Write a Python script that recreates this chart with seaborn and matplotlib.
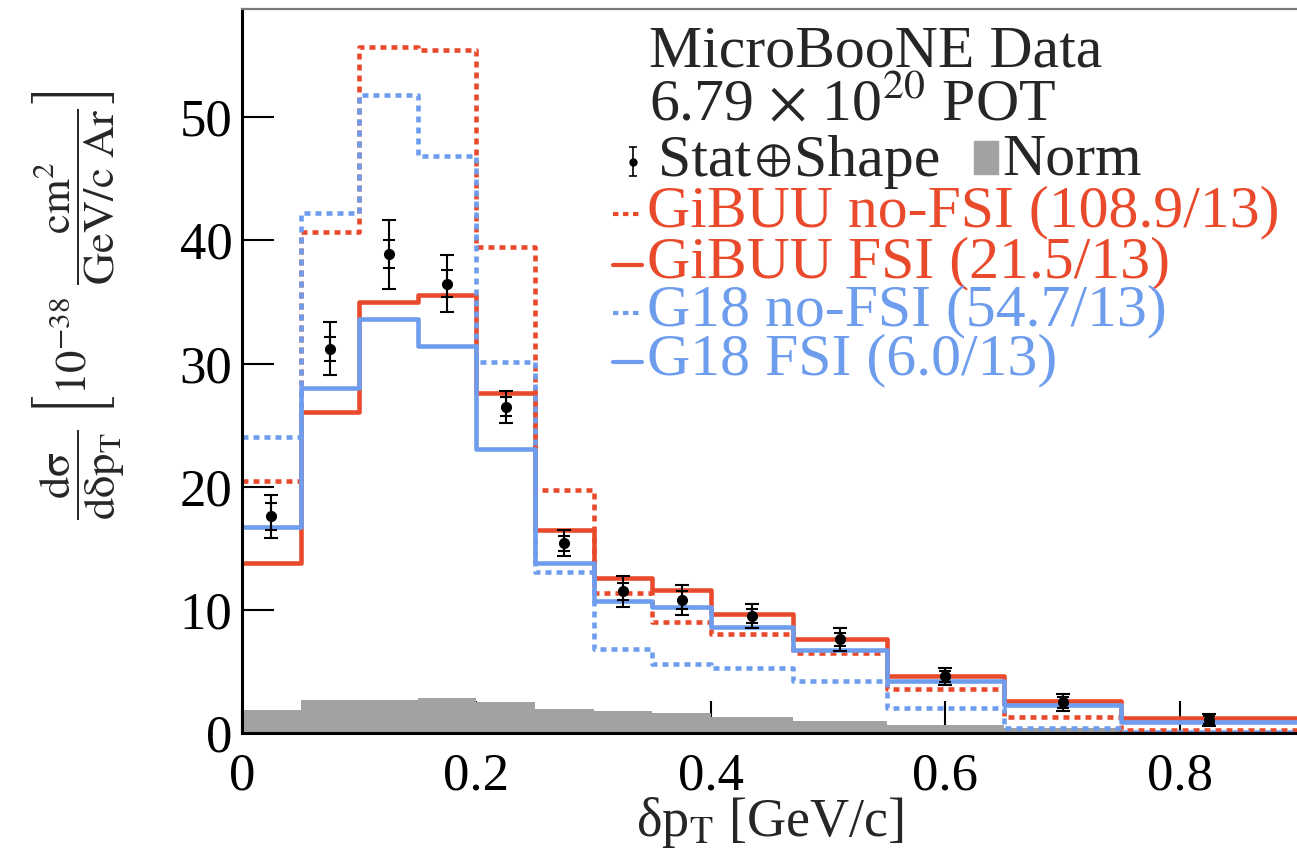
import numpy as np
import pandas as pd
import matplotlib
matplotlib.use("Agg")
import matplotlib.pyplot as plt
from matplotlib.patches import Rectangle
from matplotlib.offsetbox import TextArea, HPacker, AnchoredOffsetbox
import seaborn as sns

# Bin edges in delta pT [GeV/c]
edges = [0.0, 0.05, 0.10, 0.15, 0.20, 0.25, 0.30, 0.35, 0.40, 0.47, 0.55, 0.65, 0.75, 0.90]

# MicroBooNE data (10^-38 cm^2 / (GeV/c Ar))
data_xsec = [17.6, 31.2, 38.9, 36.5, 26.5, 15.4, 11.5, 10.8, 9.5, 7.6, 4.6, 2.5, 1.05]
err_total = [1.75, 2.15, 2.8, 2.3, 1.3, 1.05, 1.25, 1.2, 0.95, 0.9, 0.7, 0.7, 0.5]
err_stat = [1.1, 1.0, 1.1, 1.1, 0.75, 0.6, 0.7, 0.7, 0.6, 0.55, 0.45, 0.45, 0.35]

# Normalisation uncertainty band
norm_unc = [1.9, 2.7, 2.7, 2.85, 2.5, 1.95, 1.75, 1.6, 1.3, 0.97, 0.63, 0.4, 0.2]

# Generator predictions
gibuu_nofsi = [20.5, 40.7, 55.7, 55.5, 39.5, 19.7, 11.4, 9.0, 8.0, 6.5, 3.6, 1.3, 0.25]
gibuu_fsi = [13.8, 26.1, 35.0, 35.6, 27.6, 16.5, 12.6, 11.6, 9.7, 7.6, 4.6, 2.6, 1.2]
g18_nofsi = [24.0, 42.2, 51.8, 46.9, 30.1, 13.1, 6.8, 5.6, 5.3, 4.2, 2.0, 0.4, 0.1]
g18_fsi = [16.7, 28.0, 33.6, 31.4, 23.1, 13.8, 10.7, 10.2, 8.6, 6.75, 4.25, 2.3, 0.9]

model_labels = ["GiBUU no-FSI (108.9/13)", "GiBUU FSI (21.5/13)",
                "G18 no-FSI (54.7/13)", "G18 FSI (6.0/13)"]

RED = "#EA4A2C"
BLUE = "#6E9DEE"
GRAY = "#A2A2A2"

sns.set_theme(style="ticks")
plt.rcParams["font.family"] = ["Liberation Serif", "DejaVu Serif"]
plt.rcParams["mathtext.fontset"] = "stix"

centers = [(a + b) / 2 for a, b in zip(edges[:-1], edges[1:])]
df = pd.DataFrame({
    "x": centers, "data": data_xsec, "norm": norm_unc,
    "gibuu_nofsi": gibuu_nofsi, "gibuu_fsi": gibuu_fsi,
    "g18_nofsi": g18_nofsi, "g18_fsi": g18_fsi,
})

fig = plt.figure(figsize=(12.97, 8.58), dpi=100)
ax = fig.add_axes([242 / 1297, 1 - 733 / 858, 1 - 242 / 1297, (733 - 9) / 858])

# normalisation band
sns.histplot(data=df, x="x", weights="norm", bins=edges, element="step",
             fill=True, color=GRAY, alpha=1.0, linewidth=0, ax=ax)

dotted = (0, (1.3, 1.1))
models = [("gibuu_nofsi", RED, dotted), ("gibuu_fsi", RED, "-"),
          ("g18_nofsi", BLUE, dotted), ("g18_fsi", BLUE, "-")]
for col, c, ls in models:
    sns.histplot(data=df, x="x", weights=col, bins=edges, element="step",
                 fill=False, color=c, linewidth=3.3, linestyle=ls, ax=ax)

# data points: total and stat error bars
ax.errorbar(df["x"], df["data"], yerr=err_total, fmt="none", ecolor="black",
            elinewidth=1.5, capsize=5, capthick=1.5, zorder=5)
ax.errorbar(df["x"], df["data"], yerr=err_stat, fmt="o", color="black",
            markersize=7, elinewidth=1.5, capsize=4, capthick=1.5, zorder=6)

ax.set_xlim(0, 0.9)
ax.set_ylim(0, 58.8)
ax.set_xticks([0, 0.2, 0.4, 0.6, 0.8])
ax.set_xticklabels(["0", "0.2", "0.4", "0.6", "0.8"])
ax.set_yticks([0, 10, 20, 30, 40, 50])
ax.tick_params(axis="both", direction="in", length=23, width=1.5,
               labelsize=38, colors="black")
ax.tick_params(axis="x", pad=14)
ax.tick_params(axis="y", pad=7)

for s in ["left", "bottom"]:
    ax.spines[s].set_color("black")
    ax.spines[s].set_linewidth(2.2)
ax.spines["top"].set_color("#777777")
ax.spines["top"].set_linewidth(1.6)
ax.spines["right"].set_visible(False)

ax.set_xlabel(r"δp$_{\mathrm{T}}$ [GeV/c]", fontsize=39)
ax.xaxis.set_label_coords(0.5, -0.086)
ax.set_ylabel(r"$\dfrac{\mathrm{d\sigma}}{\mathrm{d\delta p_{T}}}\ "
              r"\left[10^{-38}\ \dfrac{\mathrm{cm^{2}}}{\mathrm{GeV/c\ Ar}}\right]$",
              fontsize=32)
ax.yaxis.set_label_coords(-0.155, 0.59)
ax.yaxis.label.set_va("center")

# legend block (ROOT style)
tr = ax.transAxes
fs = 43
ax.text(0.386, 0.920, "MicroBooNE Data", fontsize=fs, transform=tr, va="baseline")
ax.text(0.386, 0.846, r"6.79 $\times$ 10$^{20}$ POT", fontsize=fs, transform=tr,
        va="baseline")

# "Stat(+)Shape" with a smaller circled plus, like the reference
stat_box = HPacker(children=[
    TextArea("Stat", textprops=dict(fontsize=fs)),
    TextArea(r"$\oplus$", textprops=dict(fontsize=32)),
    TextArea("Shape", textprops=dict(fontsize=fs)),
], align="center", pad=0, sep=2)
ax.add_artist(AnchoredOffsetbox(loc="lower left", child=stat_box, pad=0,
                                borderpad=0, frameon=False,
                                bbox_to_anchor=(0.394, 0.752),
                                bbox_transform=tr))
ax.errorbar([0.371], [0.789], yerr=[0.020], fmt="o", color="black", markersize=5,
            elinewidth=1.2, capsize=3, capthick=1.2, transform=tr, clip_on=False)
ax.add_patch(Rectangle((0.694, 0.772), 0.023, 0.046, color=GRAY, transform=tr,
                       clip_on=False))
ax.text(0.721, 0.772, "Norm", fontsize=fs, transform=tr, va="baseline")

rows_y = [0.700, 0.629, 0.563, 0.495]
for (col, c, ls), lab, y in zip(models, model_labels, rows_y):
    ax.plot([0.352, 0.379], [y + 0.017, y + 0.017], color=c, linestyle=ls,
            linewidth=3.0, transform=tr, clip_on=False)
    ax.text(0.384, y, lab, fontsize=fs, color=c, transform=tr, va="baseline")

fig.savefig("out.png", dpi=100)
